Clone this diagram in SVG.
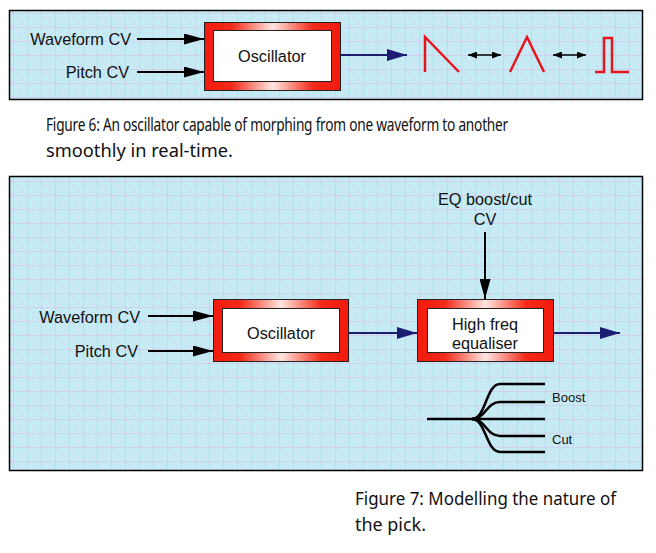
<svg xmlns="http://www.w3.org/2000/svg" width="656" height="553" viewBox="0 0 656 553">
<style>
.lbl{font-family:"Liberation Sans",Arial,sans-serif;font-size:16.3px;fill:#111}
.sm{font-family:"Liberation Sans",Arial,sans-serif;font-size:13px;fill:#111}
.cap{font-family:"Noto Sans","Liberation Sans",sans-serif;font-size:17.5px;fill:#111}
.tight{letter-spacing:-0.3px}
.panel{fill:url(#grid);stroke:#000;stroke-width:1.5}
.outer{fill:url(#redg);stroke:#222;stroke-width:1}
.inner{fill:#fff;stroke:#222;stroke-width:1}
.blk{stroke:#000;stroke-width:2;fill:none;marker-end:url(#ah)}
.navy{stroke:#1c1c72;stroke-width:2;fill:none;marker-end:url(#nh)}
.dbl{stroke:#000;stroke-width:1.5;fill:none;marker-end:url(#sh);marker-start:url(#shs)}
.wave{stroke:#e8141c;stroke-width:2.5;fill:none;stroke-linejoin:miter}
.fan{stroke:#000;stroke-width:2.5;fill:none}
</style>
<defs>
<pattern id="grid" width="14" height="14" patternUnits="userSpaceOnUse">
<rect width="14" height="14" fill="#c4ecf4"/>
<rect x="0" y="0" width="1" height="1" fill="#d6d0ee"/>
<rect x="2" y="2" width="1" height="1" fill="#d6d0ee"/>
<rect x="4" y="4" width="1" height="1" fill="#d6d0ee"/>
<rect x="6" y="6" width="1" height="1" fill="#d6d0ee"/>
<rect x="8" y="8" width="1" height="1" fill="#d6d0ee"/>
<rect x="10" y="10" width="1" height="1" fill="#d6d0ee"/>
<rect x="12" y="12" width="1" height="1" fill="#d6d0ee"/>
<rect x="4" y="10" width="1" height="1" fill="#d6d0ee"/>
<rect x="10" y="4" width="1" height="1" fill="#d6d0ee"/>
<rect x="13" y="0" width="1" height="14" fill="#d2d0ea"/>
<rect x="0" y="13" width="14" height="1" fill="#d2d0ea"/>
</pattern>
<linearGradient id="redg" x1="0" y1="0" x2="1" y2="0">
<stop offset="0" stop-color="#f21a0e"/>
<stop offset="0.2" stop-color="#f42a18"/>
<stop offset="0.5" stop-color="#ffe6e0"/>
<stop offset="0.8" stop-color="#f42a18"/>
<stop offset="1" stop-color="#f21a0e"/>
</linearGradient>
<marker id="ah" markerUnits="userSpaceOnUse" markerWidth="20" markerHeight="11" refX="20" refY="5.5" orient="auto">
<path d="M0,0 L20,5.5 L0,11 Z" fill="#000"/>
</marker>
<marker id="nh" markerUnits="userSpaceOnUse" markerWidth="20" markerHeight="12" refX="20" refY="6" orient="auto">
<path d="M0,0 L20,6 L0,12 Z" fill="#1c1c72"/>
</marker>
<marker id="sh" markerUnits="userSpaceOnUse" markerWidth="9" markerHeight="7" refX="9" refY="3.5" orient="auto">
<path d="M0,0 L9,3.5 L0,7 Z" fill="#000"/>
</marker>
<marker id="shs" markerUnits="userSpaceOnUse" markerWidth="9" markerHeight="7" refX="0" refY="3.5" orient="auto">
<path d="M9,0 L0,3.5 L9,7 Z" fill="#000"/>
</marker>
</defs>

<rect class="panel" x="9.5" y="10.5" width="633" height="89"/>
<rect class="panel" x="9.5" y="176.5" width="633" height="294"/>

<g id="fig6-waveform-cv"><text class="lbl" x="131" y="45" text-anchor="end">Waveform CV</text></g>
<g id="fig6-pitch-cv"><text class="lbl" x="129" y="78" text-anchor="end">Pitch CV</text></g>
<g id="fig6-oscillator">
<rect class="outer" x="204.5" y="22.5" width="136" height="68"/>
<rect class="inner" x="213.5" y="30.5" width="118" height="51"/>
<text class="lbl" x="272" y="62" text-anchor="middle">Oscillator</text>
</g>
<g id="fig6-waves">
<path class="wave" d="M425,72 L425,37 L459,72"/>
<path class="wave" d="M510,72 L527,37 L544,72"/>
<path class="wave" d="M595,72 L604,72 L604,38 L612,38 L612,72 L629,72"/>
</g>

<g id="fig7-waveform-cv"><text class="lbl" x="140" y="323" text-anchor="end">Waveform CV</text></g>
<g id="fig7-pitch-cv"><text class="lbl" x="138" y="357" text-anchor="end">Pitch CV</text></g>
<g id="fig7-oscillator">
<rect class="outer" x="213.5" y="299.5" width="135" height="62"/>
<rect class="inner" x="222.5" y="308.5" width="117" height="44"/>
<text class="lbl" x="281" y="339" text-anchor="middle">Oscillator</text>
</g>
<g id="fig7-eq">
<rect class="outer" x="417.5" y="299.5" width="136" height="62"/>
<rect class="inner" x="427.5" y="308.5" width="116" height="44"/>
<text class="lbl" x="485" y="330" text-anchor="middle">High freq</text>
<text class="lbl" x="485" y="349" text-anchor="middle">equaliser</text>
</g>
<g id="fig7-eq-cv">
<text class="lbl" x="485" y="205" text-anchor="middle">EQ boost/cut</text>
<text class="lbl" x="485" y="225" text-anchor="middle">CV</text>
</g>
<g id="fig7-response">
<path class="fan" d="M427,419 L472,419 L545,419"/>
<path class="fan" d="M472,419 C486,419 486,384 500,384 L545,384"/>
<path class="fan" d="M472,419 C486,419 486,402 500,402 L545,402"/>
<path class="fan" d="M472,419 C486,419 486,436 500,436 L545,436"/>
<path class="fan" d="M472,419 C486,419 486,452 500,452 L545,452"/>
<text class="sm" x="552" y="402">Boost</text>
<text class="sm" x="552" y="444">Cut</text>
</g>

<g id="connectors">
<line class="blk" x1="137" y1="39" x2="204" y2="39"/>
<line class="blk" x1="137" y1="72" x2="204" y2="72"/>
<line class="navy" x1="341" y1="55" x2="407" y2="55"/>
<line class="dbl" x1="468" y1="55" x2="501" y2="55"/>
<line class="dbl" x1="553" y1="55" x2="586" y2="55"/>
<line class="blk" x1="148" y1="316" x2="213" y2="316"/>
<line class="blk" x1="148" y1="351" x2="213" y2="351"/>
<line class="navy" x1="349" y1="333" x2="417" y2="333"/>
<line class="navy" x1="554" y1="333" x2="620" y2="333"/>
<line class="blk" x1="485" y1="232" x2="485" y2="299"/>
</g>

<g id="captions">
<text class="cap tight" x="46" y="131" textLength="462" lengthAdjust="spacingAndGlyphs">Figure 6: An oscillator capable of morphing from one waveform to another</text>
<text class="cap" x="46" y="157" textLength="187" lengthAdjust="spacingAndGlyphs">smoothly in real-time.</text>
<text class="cap" x="355" y="505" textLength="261" lengthAdjust="spacingAndGlyphs">Figure 7: Modelling the nature of</text>
<text class="cap" x="355" y="531" textLength="71" lengthAdjust="spacingAndGlyphs">the pick.</text>
</g>
</svg>
